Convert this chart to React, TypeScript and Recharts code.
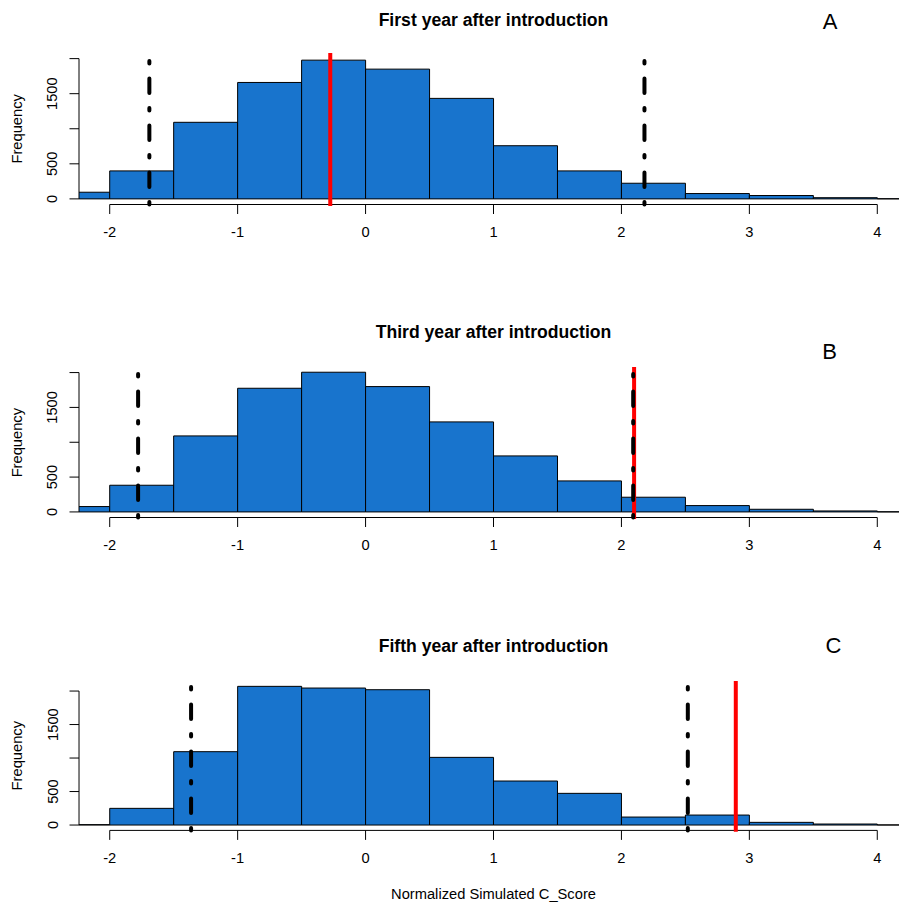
import { ComposedChart, Bar, XAxis, YAxis, ReferenceLine } from 'recharts';

// histogram bins (width 0.5), given by their centres
const binMids = [-2.25, -1.75, -1.25, -0.75, -0.25, 0.25, 0.75, 1.25, 1.75, 2.25, 2.75, 3.25, 3.75, 4.25];
const countsFirst = [95, 399, 1092, 1660, 1978, 1850, 1433, 758, 399, 223, 76, 48, 17, 2];
const countsThird = [77, 383, 1091, 1775, 2005, 1799, 1292, 804, 445, 211, 91, 38, 14, 2];
const countsFifth = [6, 249, 1095, 2070, 2045, 2020, 1010, 657, 473, 119, 149, 40, 15, 2];

const xTicks = [-2, -1, 0, 1, 2, 3, 4];
const yTicks = [0, 500, 1000, 1500, 2000];
const yTickLabels = ['0', '500', '', '1500', ''];

const titles = ['First year after introduction', 'Third year after introduction', 'Fifth year after introduction'];
const letters = ['A', 'B', 'C'];
const observedScore = [-0.276, 2.099, 2.894];
const lowerLimit = [-1.69, -1.778, -1.364];
const upperLimit = [2.18, 2.092, 2.519];
const limitTop = [2000, 2000, 2070];
const yMax = [2080, 2080, 2150];
const xLabel = 'Normalized Simulated C_Score';

const FONT = '"Liberation Sans", Arial, Helvetica, sans-serif';
const BLUE = '#1874CD';
const CHART_W = 908;
const AXIS_W = 79;
const X_MIN = -2.24;
const X_MAX = 4.24;
const Y_MIN = -80;

// page position of each plot region (top / bottom in px)
const panels = [
  { top: 53.1, bottom: 204.6, titleY: 26, letterX: 830, letterY: 29.3 },
  { top: 367.4, bottom: 517.9, titleY: 338, letterX: 829.5, letterY: 359.3 },
  { top: 681, bottom: 830.4, titleY: 651.6, letterX: 833.5, letterY: 652.5 },
];
const allCounts = [countsFirst, countsThird, countsFifth];

const YTick = (props: any) => {
  const { y, payload } = props;
  const i = yTicks.indexOf(payload.value);
  const label = i >= 0 ? yTickLabels[i] : '';
  if (!label) return <g />;
  return (
    <text x={57.5} y={y} transform={`rotate(-90 57.5 ${y})`} textAnchor="middle"
      fontSize={14.7} fontFamily={FONT} fill="#000">{label}</text>
  );
};

const Panel = ({ idx }: { idx: number }) => {
  const p = panels[idx];
  const mt = 10;
  const xh = 45;
  const h = mt + (p.bottom - p.top) + xh;
  const data = binMids.map((mid, i) => ({ mid, count: allCounts[idx][i] }));
  const dotdash = '2.5 15 14.5 15';
  return (
    <div style={{ position: 'absolute', left: 0, top: p.top - mt }}>
      <ComposedChart width={CHART_W} height={h} data={data}
        margin={{ top: mt, right: 0, bottom: 0, left: 0 }} barCategoryGap={0} barGap={0}>
        <XAxis dataKey="mid" type="number" domain={[X_MIN, X_MAX]} allowDataOverflow
          ticks={xTicks} height={xh} axisLine={false} stroke="#000" tickSize={9.5} tickMargin={13}
          tick={{ fill: '#000', fontSize: 14.7, fontFamily: FONT }} interval={0} />
        <YAxis type="number" domain={[Y_MIN, yMax[idx]]} allowDataOverflow ticks={yTicks}
          width={AXIS_W} axisLine={false} stroke="#000" tickSize={9.5} tick={<YTick />} interval={0} />
        <Bar dataKey="count" fill={BLUE} stroke="#000" strokeWidth={1} isAnimationActive={false} />
        <ReferenceLine segment={[{ x: X_MIN, y: 0 }, { x: X_MIN, y: 2000 }]} stroke="#000" strokeWidth={1} ifOverflow="visible" />
        <ReferenceLine segment={[{ x: -2, y: Y_MIN }, { x: 4, y: Y_MIN }]} stroke="#000" strokeWidth={1} ifOverflow="visible" />
        <ReferenceLine segment={[{ x: observedScore[idx], y: yMax[idx] }, { x: observedScore[idx], y: -100 }]}
          stroke="#FF0000" strokeWidth={4} ifOverflow="visible" />
        <ReferenceLine segment={[{ x: lowerLimit[idx], y: Y_MIN }, { x: lowerLimit[idx], y: limitTop[idx] }]}
          stroke="#000" strokeWidth={4} strokeDasharray={dotdash} strokeLinecap="round" ifOverflow="visible" />
        <ReferenceLine segment={[{ x: upperLimit[idx], y: Y_MIN }, { x: upperLimit[idx], y: limitTop[idx] }]}
          stroke="#000" strokeWidth={4} strokeDasharray={dotdash} strokeLinecap="round" ifOverflow="visible" />
      </ComposedChart>
    </div>
  );
};

export default function App() {
  const cx = AXIS_W + (CHART_W - AXIS_W) / 2;
  return (
    <div style={{ position: 'absolute', left: 0, top: 0, width: 899, height: 902, overflow: 'hidden', background: '#fff' }}>
      {panels.map((_, i) => <Panel key={i} idx={i} />)}
      <svg width={899} height={902} style={{ position: 'absolute', left: 0, top: 0, pointerEvents: 'none' }}>
        {panels.map((p, i) => {
          const midY = (p.top + p.bottom) / 2;
          return (
            <g key={i} fontFamily={FONT} fill="#000">
              <text x={cx} y={p.titleY} textAnchor="middle" fontSize={17.6} fontWeight="bold">{titles[i]}</text>
              <text x={p.letterX} y={p.letterY} textAnchor="middle" fontSize={22}>{letters[i]}</text>
              <text x={22} y={midY} transform={`rotate(-90 22 ${midY})`} textAnchor="middle" fontSize={14.7}>Frequency</text>
            </g>
          );
        })}
        <text x={cx} y={898.8} textAnchor="middle" fontSize={14.7} fontFamily={FONT} fill="#000">{xLabel}</text>
      </svg>
    </div>
  );
}
